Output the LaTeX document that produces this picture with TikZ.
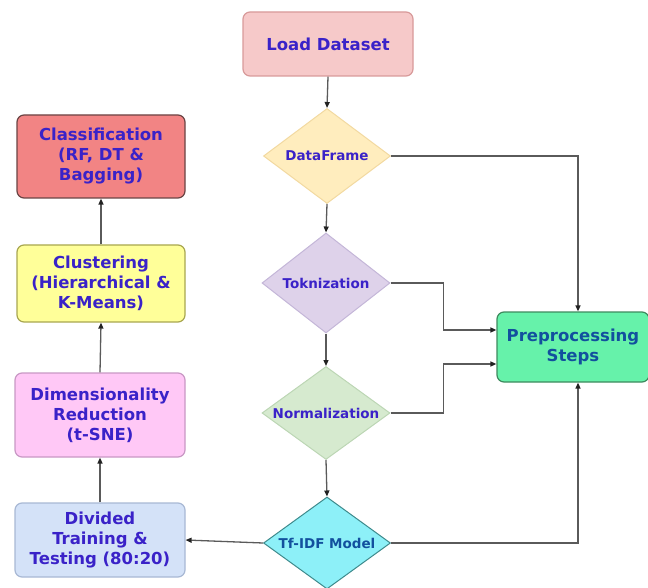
\documentclass[tikz,border=0pt]{standalone}
\usepackage{fontspec}
\setmainfont{DejaVu Sans}
\usetikzlibrary{shapes.geometric,arrows.meta,calc}
\definecolor{txtblue}{HTML}{3A22C8}
\definecolor{txtteal}{HTML}{12509E}
\definecolor{linegray}{HTML}{5A5A5A}
\definecolor{tipdark}{HTML}{222222}
\definecolor{loadfill}{HTML}{F6C9C9}
\definecolor{loaddraw}{HTML}{D89A9A}
\definecolor{dffill}{HTML}{FFEDBE}
\definecolor{dfdraw}{HTML}{F2D9A0}
\definecolor{tokfill}{HTML}{DED2EA}
\definecolor{tokdraw}{HTML}{C4B6D8}
\definecolor{normfill}{HTML}{D6EACF}
\definecolor{normdraw}{HTML}{BCD6B4}
\definecolor{tffill}{HTML}{8DF0F8}
\definecolor{tfdraw}{HTML}{3E8A8C}
\definecolor{prepfill}{HTML}{66F2AA}
\definecolor{prepdraw}{HTML}{3E8A5E}
\definecolor{clsfill}{HTML}{F28484}
\definecolor{clsdraw}{HTML}{6A4444}
\definecolor{clufill}{HTML}{FFFF99}
\definecolor{cludraw}{HTML}{A8A650}
\definecolor{dimfill}{HTML}{FFC8F6}
\definecolor{dimdraw}{HTML}{C898C4}
\definecolor{divfill}{HTML}{D4E2F8}
\definecolor{divdraw}{HTML}{A8B8D4}
\newcommand{\zw}[1]{\makebox[0pt]{#1}}
\begin{document}
\begin{tikzpicture}[x=1pt,y=-1pt,
  box/.style={rectangle,rounded corners=7pt,line width=1.2pt,align=center,inner sep=2pt,
    font=\bfseries\fontsize{16.5}{20}\selectfont,text=txtblue},
  dia/.style={diamond,line width=1pt,inner sep=0pt,align=center,
    font=\bfseries\fontsize{13.5}{15}\selectfont,text=txtblue},
  conn/.style={draw=linegray,line width=1.3pt},
  arr/.style={conn,-{Triangle[length=6pt,width=5pt,fill=tipdark,color=tipdark]}}
]
\useasboundingbox (0,0) rectangle (648,588);
% centre column
\node[box,fill=loadfill,draw=loaddraw,minimum width=170pt,minimum height=64pt] (load) at (328,44) {Load Dataset};
\node[dia,fill=dffill,draw=dfdraw,minimum width=127pt,minimum height=95pt] (df) at (327,156) {\zw{DataFrame}};
\node[dia,fill=tokfill,draw=tokdraw,minimum width=128pt,minimum height=100pt] (tok) at (326,283) {\zw{Toknization}};
\node[dia,fill=normfill,draw=normdraw,minimum width=128pt,minimum height=93pt] (norm) at (326,413) {\zw{Normalization}};
\node[dia,fill=tffill,draw=tfdraw,minimum width=127pt,minimum height=92pt,text=txtteal] (tf) at (327,543) {\zw{Tf-IDF Model}};
% right
\node[box,fill=prepfill,draw=prepdraw,minimum width=152pt,minimum height=70pt,text=txtteal] (prep) at (573,347) {Preprocessing\\Steps};
% left column
\node[box,fill=clsfill,draw=clsdraw,minimum width=168pt,minimum height=83pt] (cls) at (101,156.5) {Classification\\(RF, DT \&\\Bagging)};
\node[box,fill=clufill,draw=cludraw,minimum width=168pt,minimum height=77pt] (clu) at (101,283.5) {Clustering\\(Hierarchical \&\\K-Means)};
\node[box,fill=dimfill,draw=dimdraw,minimum width=170pt,minimum height=84pt] (dim) at (100,415) {Dimensionality\\Reduction\\(t-SNE)};
\node[box,fill=divfill,draw=divdraw,minimum width=170pt,minimum height=74pt] (div) at (100,540) {Divided\\Training \&\\Testing (80:20)};
% connectors
\draw[arr] (load.south) -- (df.north);
\draw[arr] (df.south) -- (tok.north);
\draw[arr] (tok.south) -- (norm.north);
\draw[arr] (norm.south) -- (tf.north);
\coordinate (ptop) at ([xshift=5pt]prep.north);
\coordinate (pbot) at ([xshift=5pt]prep.south);
\coordinate (pup) at ([yshift=17pt]prep.west);
\coordinate (pdn) at ([yshift=-17pt]prep.west);
\draw[arr] (df.east) -| (ptop);
\draw[arr] (tok.east) -- ++(53,0) |- (pup);
\draw[arr] (norm.east) -- ++(53,0) |- (pdn);
\draw[arr] (tf.east) -| (pbot);
\draw[arr] (tf.west) -- (div.east);
\draw[arr] (div.north) -- (dim.south);
\draw[arr] (dim.north) -- (clu.south);
\draw[arr] (clu.north) -- (cls.south);
\end{tikzpicture}
\end{document}
